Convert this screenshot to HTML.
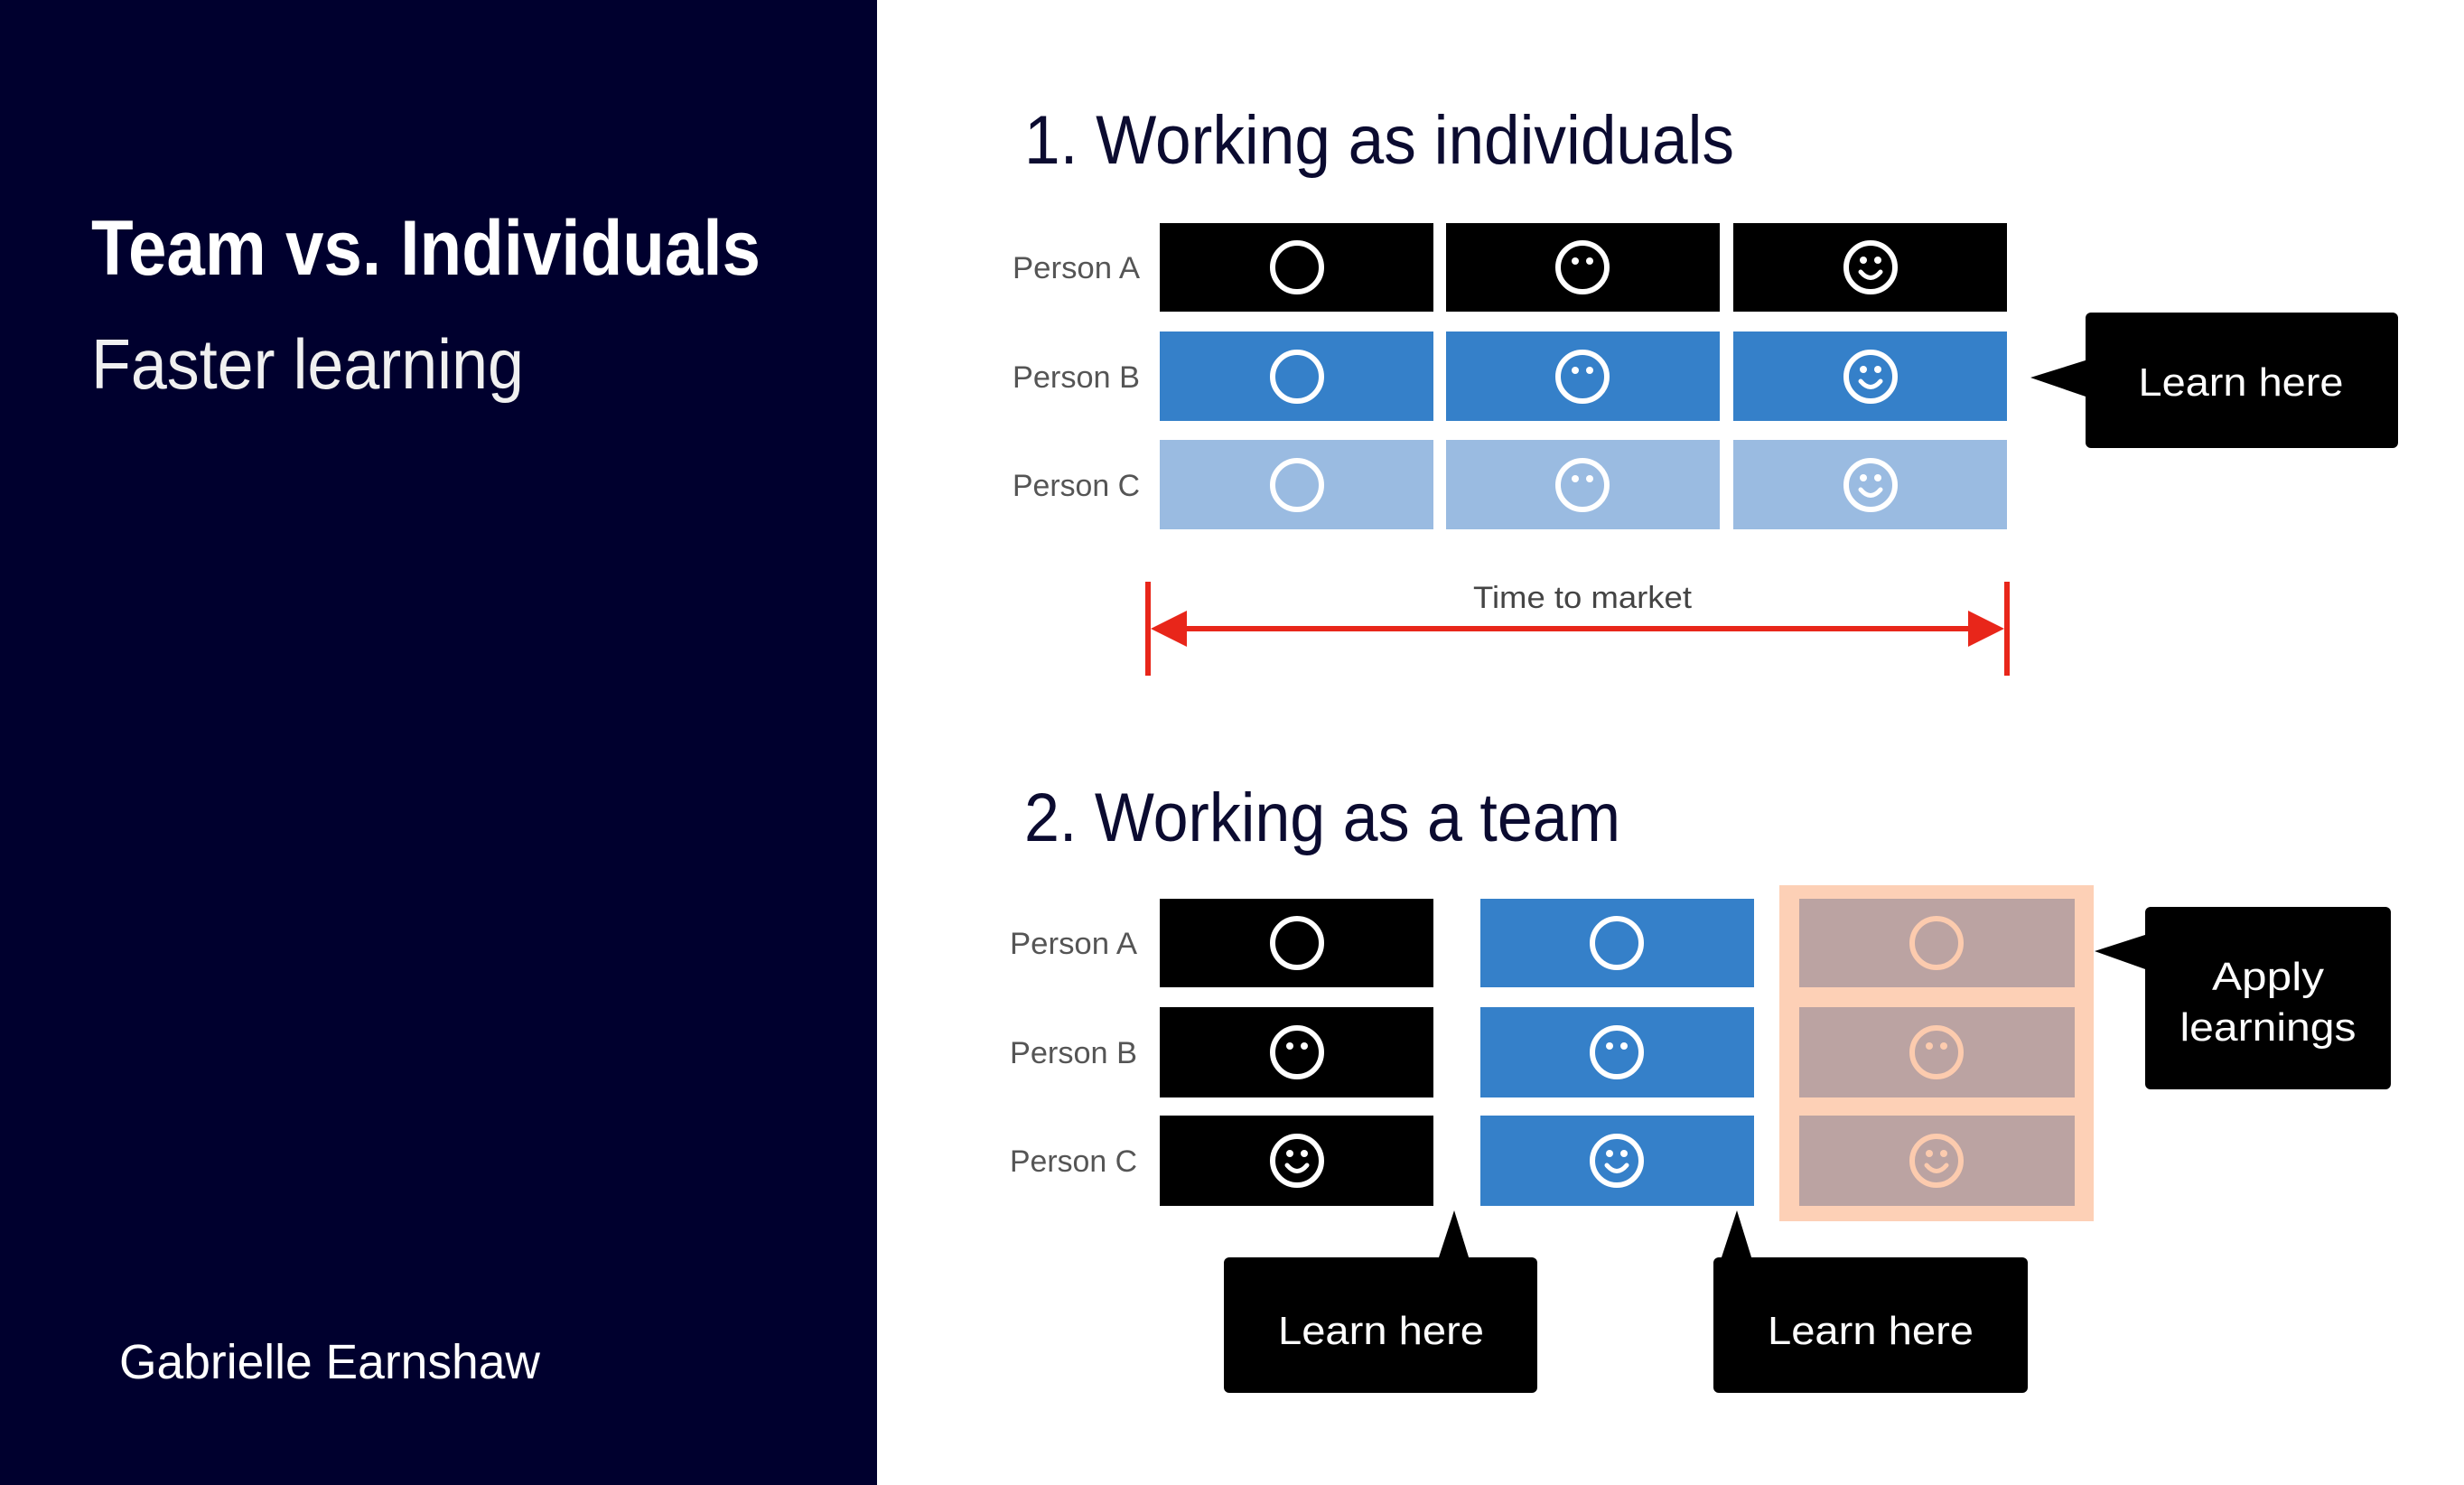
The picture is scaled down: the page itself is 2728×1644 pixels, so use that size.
<!DOCTYPE html>
<html><head><meta charset="utf-8"><style>html,body{margin:0;padding:0;background:#fff}svg{display:block}text{font-family:"Liberation Sans",sans-serif}</style></head>
<body>
<svg width="2728" height="1644" viewBox="0 0 2728 1644" xmlns="http://www.w3.org/2000/svg">
<defs>
<g id="f0"><circle r="27" fill="none" stroke-width="6"/></g>
<g id="f1"><circle r="27" fill="none" stroke-width="6"/><circle cx="-8" cy="-7" r="4" stroke="none"/><circle cx="8" cy="-7" r="4" stroke="none"/></g>
<g id="f2"><circle r="27" fill="none" stroke-width="6"/><circle cx="-8" cy="-8" r="4" stroke="none"/><circle cx="8" cy="-8" r="4" stroke="none"/><path d="M-11 5 Q0 18 11 5" fill="none" stroke-width="5" stroke-linecap="round"/></g>
</defs>
<rect x="0" y="0" width="971" height="1644" fill="#00002e"/>
<text x="101" y="304" font-size="86" font-weight="bold" fill="#fff" textLength="741" lengthAdjust="spacingAndGlyphs">Team vs. Individuals</text>
<text x="101" y="430" font-size="78" fill="#f0f0f0" textLength="479" lengthAdjust="spacingAndGlyphs">Faster learning</text>
<text x="132" y="1526" font-size="54" fill="#fff" textLength="466" lengthAdjust="spacingAndGlyphs">Gabrielle Earnshaw</text>

<text x="1134" y="181" font-size="76" fill="#0b0b30" textLength="786" lengthAdjust="spacingAndGlyphs">1. Working as individuals</text>
<g font-size="34" fill="#555" text-anchor="end">
<text x="1262" y="308" textLength="141" lengthAdjust="spacingAndGlyphs">Person A</text>
<text x="1262" y="429" textLength="141" lengthAdjust="spacingAndGlyphs">Person B</text>
<text x="1262" y="549" textLength="141" lengthAdjust="spacingAndGlyphs">Person C</text>
</g>
<g fill="#000"><rect x="1284" y="247" width="303" height="98"/><rect x="1601" y="247" width="303" height="98"/><rect x="1919" y="247" width="303" height="98"/></g>
<g fill="#3580c9"><rect x="1284" y="367" width="303" height="99"/><rect x="1601" y="367" width="303" height="99"/><rect x="1919" y="367" width="303" height="99"/></g>
<g fill="#9abbe1"><rect x="1284" y="487" width="303" height="99"/><rect x="1601" y="487" width="303" height="99"/><rect x="1919" y="487" width="303" height="99"/></g>
<g stroke="#fff" fill="#fff">
<use href="#f0" x="1436" y="296"/><use href="#f1" x="1752" y="296"/><use href="#f2" x="2071" y="296"/>
<use href="#f0" x="1436" y="417"/><use href="#f1" x="1752" y="417"/><use href="#f2" x="2071" y="417"/>
<use href="#f0" x="1436" y="537"/><use href="#f1" x="1752" y="537"/><use href="#f2" x="2071" y="537"/>
</g>
<rect x="2309" y="346" width="346" height="150" rx="6" fill="#000"/>
<polygon points="2248,418 2312,398 2312,440" fill="#000"/>
<text x="2481" y="438" font-size="44" fill="#fff" text-anchor="middle" textLength="227" lengthAdjust="spacingAndGlyphs">Learn here</text>

<g stroke="#e8261a" stroke-width="6" fill="none"><line x1="1271" y1="644" x2="1271" y2="748"/><line x1="2222" y1="644" x2="2222" y2="748"/><line x1="1290" y1="696" x2="2205" y2="696"/></g>
<polygon points="1274,696 1314,676 1314,716" fill="#e8261a"/>
<polygon points="2219,696 2179,676 2179,716" fill="#e8261a"/>
<text x="1752" y="673" font-size="34" fill="#444" text-anchor="middle" textLength="242" lengthAdjust="spacingAndGlyphs">Time to market</text>

<text x="1134" y="931" font-size="76" fill="#0b0b30" textLength="660" lengthAdjust="spacingAndGlyphs">2. Working as a team</text>
<g font-size="34" fill="#555" text-anchor="end">
<text x="1259" y="1056" textLength="141" lengthAdjust="spacingAndGlyphs">Person A</text>
<text x="1259" y="1177" textLength="141" lengthAdjust="spacingAndGlyphs">Person B</text>
<text x="1259" y="1297" textLength="141" lengthAdjust="spacingAndGlyphs">Person C</text>
</g>
<g fill="#000"><rect x="1284" y="995" width="303" height="98"/><rect x="1284" y="1115" width="303" height="100"/><rect x="1284" y="1235" width="303" height="100"/></g>
<g fill="#3580c9"><rect x="1639" y="995" width="303" height="98"/><rect x="1639" y="1115" width="303" height="100"/><rect x="1639" y="1235" width="303" height="100"/></g>
<rect x="1970" y="980" width="348" height="372" fill="#fdd0b6"/>
<g fill="#bba3a2"><rect x="1992" y="995" width="305" height="98"/><rect x="1992" y="1115" width="305" height="100"/><rect x="1992" y="1235" width="305" height="100"/></g>
<g stroke="#fff" fill="#fff">
<use href="#f0" x="1436" y="1044"/><use href="#f1" x="1436" y="1165"/><use href="#f2" x="1436" y="1285"/>
<use href="#f0" x="1790" y="1044"/><use href="#f1" x="1790" y="1165"/><use href="#f2" x="1790" y="1285"/>
</g>
<g stroke="#fccbae" fill="#fccbae">
<use href="#f0" x="2144" y="1044"/><use href="#f1" x="2144" y="1165"/><use href="#f2" x="2144" y="1285"/>
</g>
<rect x="2375" y="1004" width="272" height="202" rx="6" fill="#000"/>
<polygon points="2319,1053 2378,1034 2378,1074" fill="#000"/>
<text x="2511" y="1096" font-size="44" fill="#fff" text-anchor="middle" textLength="124" lengthAdjust="spacingAndGlyphs">Apply</text>
<text x="2511" y="1152" font-size="44" fill="#fff" text-anchor="middle" textLength="195" lengthAdjust="spacingAndGlyphs">learnings</text>

<rect x="1355" y="1392" width="347" height="150" rx="6" fill="#000"/>
<polygon points="1610,1340 1592,1395 1627,1395" fill="#000"/>
<text x="1529" y="1488" font-size="44" fill="#fff" text-anchor="middle" textLength="228" lengthAdjust="spacingAndGlyphs">Learn here</text>
<rect x="1897" y="1392" width="348" height="150" rx="6" fill="#000"/>
<polygon points="1923,1340 1905,1395 1940,1395" fill="#000"/>
<text x="2071" y="1488" font-size="44" fill="#fff" text-anchor="middle" textLength="228" lengthAdjust="spacingAndGlyphs">Learn here</text>
</svg>
</body></html>
